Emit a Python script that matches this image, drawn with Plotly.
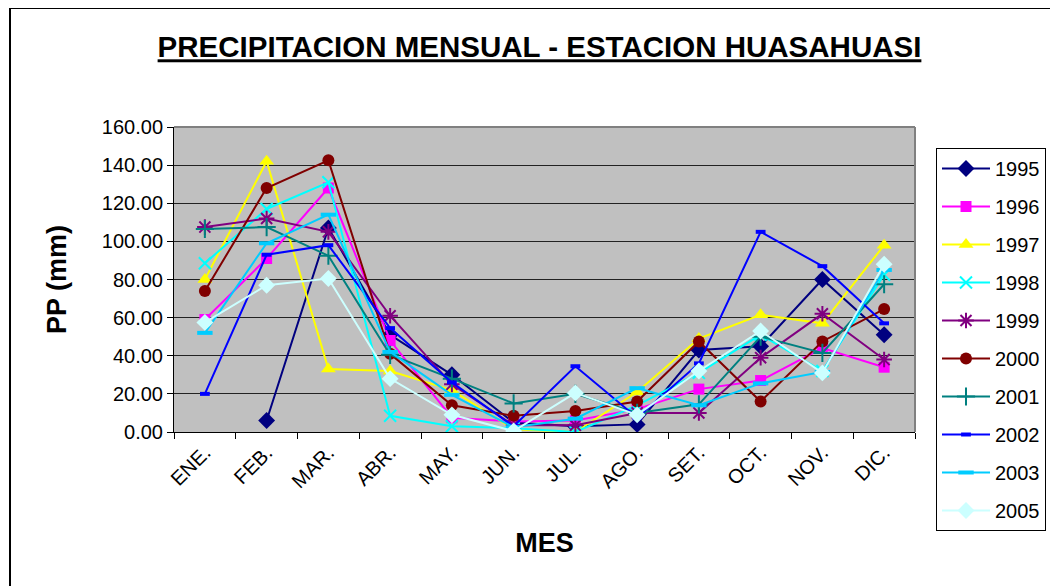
import plotly.graph_objects as go

months = ["ENE.", "FEB.", "MAR.", "ABR.", "MAY.", "JUN.", "JUL.", "AGO.", "SET.", "OCT.", "NOV.", "DIC."]

y1995 = [None, 6, 107, 51, 30, 5, 3, 4, 43, 45, 80, 51]
y1996 = [59, 91, 128, 48, 7.5, 5.5, 6, 12, 22.5, 27, 44, 34]
y1997 = [80, 142, 33, 32, 22, 1.5, 0, 21, 49, 61.5, 57, 98]
y1998 = [88.5, 117, 131, 8.5, 3, 2, 0, 14, 31, 51, 32, 82.5]
y1999 = [107.5, 112, 105, 61, 25, 3.5, 3.5, 10, 10, 39, 62, 38]
y2000 = [74, 128, 142.5, 41, 14, 8.5, 11, 16, 47.5, 16, 47.5, 64.5]
y2001 = [106.5, 107.5, 92.5, 40.5, 28, 15, 20, 10, 14.5, 50, 41.5, 77.5]
y2002 = [20, 93, 98, 54.5, 26, 3, 34.5, 7.5, 36, 105, 87, 57]
y2003 = [52, 99, 114, 42, 19.5, 2.5, 7, 23, 14, 25.5, 31.5, 85]
y2005 = [57.5, 77, 80.5, 28, 9, 0.5, 20.5, 9, 32, 53, 31, 88]

years = ["1995", "1996", "1997", "1998", "1999", "2000", "2001", "2002", "2003", "2005"]
series = [y1995, y1996, y1997, y1998, y1999, y2000, y2001, y2002, y2003, y2005]

styles = [
    dict(color="#000080", symbol="diamond", size=13, lw=0),
    dict(color="#FF00FF", symbol="square", size=11, lw=0),
    dict(color="#FFFF00", symbol="triangle-up", size=13, lw=0),
    dict(color="#00FFFF", symbol="x-thin-open", size=12, lw=2),
    dict(color="#800080", symbol="asterisk-open", size=13, lw=2),
    dict(color="#800000", symbol="circle", size=12, lw=0),
    dict(color="#008080", symbol="cross-thin-open", size=13, lw=2),
    dict(color="#0000FF", symbol="line-ew-open", size=7, lw=4),
    dict(color="#00CCFF", symbol="line-ew-open", size=11, lw=4),
    dict(color="#CCFFFF", symbol="diamond", size=13, lw=0),
]

fig = go.Figure()
for name, ys, st in zip(years, series, styles):
    fig.add_trace(go.Scatter(
        x=months, y=ys, name=name, mode="lines+markers",
        legendgroup=name,
        line=dict(color=st["color"], width=2),
        marker=dict(symbol=st["symbol"], size=st["size"], color=st["color"],
                    line=dict(color=st["color"], width=st["lw"])),
        connectgaps=False,
    ))

# the page body has an 8px margin, so the figure is drawn 8px smaller and offset
OFF = 8
W, H = 1058 - OFF, 586 - OFF
L, R, T, B = 174 - OFF, 915 - OFF, 127 - OFF, 432 - OFF

def px_x(p):
    return (p - OFF - L) / (R - L)

def px_y(p):
    return (B - (p - OFF)) / (B - T)

fig.update_layout(
    width=W, height=H,
    margin=dict(l=L, r=W - R, t=T, b=H - B, pad=0, autoexpand=False),
    paper_bgcolor="white",
    plot_bgcolor="#C0C0C0",
    font=dict(family="Liberation Sans, Arial, sans-serif", color="black", size=20),
    title=dict(
        text="<u><b>PRECIPITACION MENSUAL - ESTACION HUASAHUASI</b></u>",
        font=dict(size=29.5, family="Liberation Sans, Arial, sans-serif", color="black"),
        x=531.5 / W, xanchor="center", y=1 - 39 / H, yanchor="middle", yref="container",
    ),
    xaxis=dict(
        type="category", categoryorder="array", categoryarray=months,
        tickangle=-45, ticks="outside", ticklen=6, tickcolor="black", tickwidth=1,
        tickson="boundaries",
        showline=True, linecolor="black", linewidth=1,
        showgrid=False, automargin=False,
        tickfont=dict(size=20),
        title=dict(text="<b>MES</b>", font=dict(size=27), standoff=41),
        range=[-0.5, 11.5],
    ),
    yaxis=dict(
        range=[0, 160], dtick=20, tickformat=".2f",
        ticks="outside", ticklen=6, tickcolor="black", tickwidth=1,
        showline=True, linecolor="black", linewidth=1,
        showgrid=True, gridcolor="#222222", gridwidth=1,
        zeroline=False, automargin=False,
        tickfont=dict(size=20),
        title=dict(text="<b>PP (mm)</b>", font=dict(size=27), standoff=27),
    ),
    legend=dict(
        xref="container", yref="container",
        x=(936 - OFF) / W, y=1 - (148 - OFF) / H, xanchor="left", yanchor="top",
        bgcolor="white", bordercolor="black", borderwidth=1,
        font=dict(size=20),
        traceorder="grouped", tracegroupgap=9,
        itemwidth=48, maxheight=440,
    ),
    showlegend=True,
    shapes=[
        dict(type="line", xref="paper", yref="paper", x0=0, x1=1, y0=1, y1=1,
             line=dict(color="#808080", width=2)),
        dict(type="line", xref="paper", yref="paper", x0=1, x1=1, y0=0, y1=1,
             line=dict(color="#808080", width=2)),
        dict(type="rect", xref="paper", yref="paper",
             x0=px_x(10), x1=px_x(1075), y0=px_y(8), y1=px_y(600),
             line=dict(color="black", width=2), fillcolor="rgba(0,0,0,0)", layer="below"),
    ],
)

fig.write_html("out.html")
